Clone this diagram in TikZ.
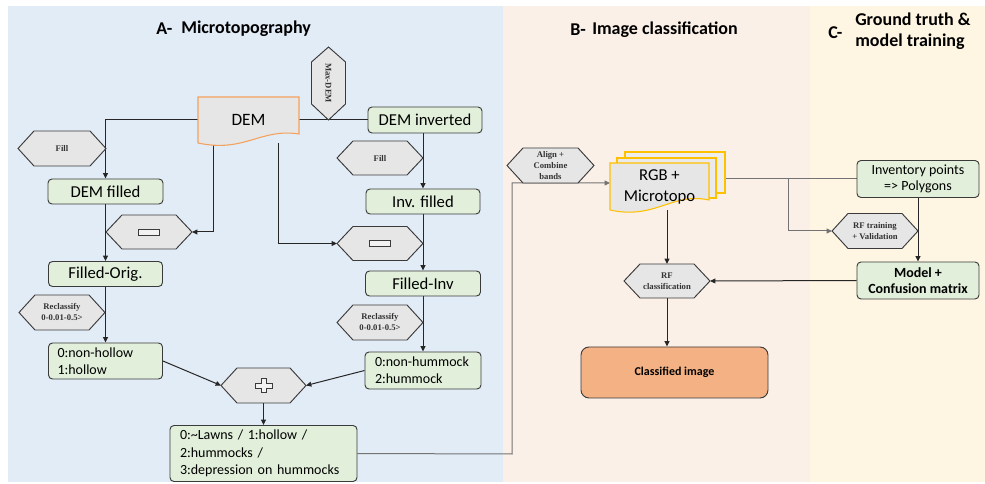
\documentclass[tikz,border=0pt]{standalone}
\usepackage{fontspec}
\setmainfont{Carlito}
\newfontfamily\tnr{Liberation Serif}
\usetikzlibrary{arrows.meta,calc}
\definecolor{bgA}{HTML}{E2ECF7}
\definecolor{bgB}{HTML}{FBF0E7}
\definecolor{bgC}{HTML}{FEF5E2}
\definecolor{gfill}{HTML}{E2EFDA}
\definecolor{hfill}{HTML}{E7E6E6}
\definecolor{dline}{HTML}{3A3A3A}
\definecolor{docfill}{HTML}{E6E6E6}
\definecolor{orB}{HTML}{F4A15D}
\definecolor{yeB}{HTML}{FFC000}
\definecolor{clsfill}{HTML}{F4B183}
\pgfdeclarelayer{bg}\pgfdeclarelayer{conn}\pgfsetlayers{bg,conn,main}
\tikzset{
 gbox/.style={draw=dline, fill=gfill, rounded corners=3pt, line width=0.7pt, inner sep=0pt, font=\fontsize{12.5}{14}\selectfont},
 gboxs/.style={gbox, font=\fontsize{10.5}{13}\selectfont, align=left},
 hexd/.style={draw=dline, fill=hfill, line width=0.7pt},
 hext/.style={inner sep=0pt, font=\tnr\bfseries\fontsize{6.5}{8.25}\selectfont, text=black!80, align=center},
 conn/.style={draw=black!85, line width=0.75pt},
 arr/.style={conn, -{Triangle[length=4pt,width=3.6pt]}},
 gconn/.style={draw=black!55, line width=0.75pt},
 garr/.style={gconn, -{Triangle[length=4pt,width=3.6pt]}},
 ttl/.style={font=\bfseries\fontsize{13.5}{16}\selectfont, anchor=west, inner sep=0pt},
 symb/.style={draw=dline, fill=hfill!50!white, line width=0.6pt},
 docd/.style={fill=docfill, line width=0.8pt},
 plain/.style={inner sep=0pt}
}
\newcommand\hexbox[7]{%
 \draw[hexd] ({#2-#4},#3) -- ({#2-#4+#6},{#3-#5}) -- ({#2+#4-#6},{#3-#5}) -- ({#2+#4},#3) -- ({#2+#4-#6},{#3+#5}) -- ({#2-#4+#6},{#3+#5}) -- cycle;
 \node[hext] (#1) at (#2,#3) {#7};
 \coordinate (#1-w) at ({#2-#4},#3);
 \coordinate (#1-e) at ({#2+#4},#3);
 \coordinate (#1-n) at (#2,{#3-#5});
 \coordinate (#1-s) at (#2,{#3+#5});}
\begin{document}
\begin{tikzpicture}[x=0.75pt,y=-0.75pt]
\useasboundingbox (0,0) rectangle (985,484);
\begin{pgfonlayer}{bg}
\fill[white] (0,0) rectangle (985,484);
\fill[bgA] (8,6) rectangle (503,482);
\fill[bgB] (503,6) rectangle (810,482);
\fill[bgC] (810,6) rectangle (985,482);
\end{pgfonlayer}
% titles
\node[ttl] (tA1) at (156,29) {A-};
\node[ttl] (tA2) at (181,29) {Microtopography};
\node[ttl] (tB1) at (570,30) {B-};
\node[ttl] (tB2) at (592,30) {Image classification};
\node[ttl] (tC1) at (828,33) {C-};
\node[ttl] (tC2) at (855,19) {Ground truth \&};
\node[ttl] (tC3) at (855,42) {model training};
% DEM document
\draw[docd, draw=orB] (198,97) -- (299,97) -- (299,134) .. controls (260,128) and (245,153) .. (198,143) -- cycle;
\node[plain, font=\fontsize{13}{15}\selectfont, minimum width=75.75pt, minimum height=34.5pt] (dem) at (248.5,120) {DEM};
% Max-DEM
\draw[hexd] (328.5,47) -- (345.5,62) -- (345.5,104) -- (328.5,120) -- (311.5,104) -- (311.5,62) -- cycle;
\node[hext, rotate=-90] (maxdem) at (328.5,83) {Max-DEM};
% green boxes A
\node[gbox, minimum width=85.5pt, minimum height=19.5pt] (deminv) at (425,120) {DEM inverted};
\node[gbox, minimum width=86.25pt, minimum height=18.75pt] (demfilled) at (105.5,191.5) {DEM filled};
\node[gbox, minimum width=85.5pt, minimum height=18.75pt] (filledorig) at (105.5,274) {Filled-Orig.};
\node[gboxs, inner xsep=6.75pt, text width=72pt, minimum height=27pt] (nonhollow) at (105.5,361) {0:non-hollow\\1:hollow};
\node[gbox, minimum width=85.5pt, minimum height=18.75pt] (invfilled) at (423,201.5) {Inv. filled};
\node[gbox, minimum width=86.25pt, minimum height=18.75pt] (filledinv) at (423,283.5) {Filled-Inv};
\node[gboxs, inner xsep=7.5pt, text width=72pt, minimum height=27.75pt] (nonhummock) at (423,370.5) {0:non-hummock\\2:hummock};
\node[gboxs, inner xsep=7.5pt, text width=125.25pt, minimum height=42pt] (result) at (263.5,453.5) {0:\textasciitilde Lawns / 1:hollow /\\2:hummocks /\\3:depression on hummocks};
% hexagons A
\hexbox{fillL}{62}{148.5}{44}{17.5}{16}{Fill}
\hexbox{minusL}{149}{232}{43}{17}{16}{}
\hexbox{fillR}{380}{158}{43}{17}{16}{Fill}
\hexbox{minusR}{380}{243.5}{43}{17}{16}{}
\hexbox{reclL}{62}{312.5}{43}{17.5}{16}{Reclassify\\0-0.01-0.5>}
\hexbox{reclR}{380}{322.5}{43}{17.5}{16}{Reclassify\\0-0.01-0.5>}
\hexbox{plus}{263.5}{385.5}{42.5}{17.5}{16}{}
\draw[symb] (138.5,229) rectangle (159.5,235);
\draw[symb] (369.5,240.5) rectangle (390.5,246.5);
\draw[symb] (255,383) -- (261,383) -- (261,378.5) -- (266,378.5) -- (266,383) -- (272,383) -- (272,388) -- (266,388) -- (266,392.5) -- (261,392.5) -- (261,388) -- (255,388) -- cycle;
% B
\draw[docd, draw=yeB, fill=docfill!70!white] (625,152) rectangle (725,193);
\draw[docd, draw=yeB, fill=docfill!85!white] (617,158) rectangle (716,198);
\draw[docd, draw=yeB] (610,163) -- (709,163) -- (709,200) .. controls (672,192) and (655,220) .. (610,210) -- cycle;
\node[plain, font=\fontsize{12.5}{15.5}\selectfont, align=center, minimum width=74.25pt, minimum height=34pt] (rgb) at (659.5,187) {RGB +\\Microtopo};
\coordinate (rgb-w) at (610,183);
\coordinate (rgb-e) at (725,179);
\hexbox{alignb}{550.5}{165.5}{43.5}{17.5}{16}{Align +\\Combine\\bands}
\hexbox{rfclass}{667}{281}{43}{17}{16}{RF\\classification}
\node[gbox, fill=clsfill, rounded corners=6pt, minimum width=140.25pt, minimum height=38.25pt, font=\bfseries\fontsize{9}{11}\selectfont] (classified) at (674.5,372.5) {Classified image};
% C
\node[gbox, font=\fontsize{10.5}{12}\selectfont, align=center, minimum width=91.5pt, minimum height=27.75pt] (inventory) at (918,179) {Inventory points\\=> Polygons};
\hexbox{rftrain}{875}{231}{43}{17.5}{16}{RF training\\+ Validation}
\node[gbox, font=\bfseries\fontsize{10.5}{12}\selectfont, align=center, minimum width=91.5pt, minimum height=27.75pt] (model) at (918,280.5) {Model +\\Confusion matrix};
% connectors
\coordinate (jB) at (512,454);
\coordinate (jC) at (788,179);
\begin{pgfonlayer}{conn}
\draw[arr] (dem.west) -| (demfilled.north);
\draw[arr] ($(dem.south west)+(15.5,0)$) |- (minusL-e);
\draw[arr] ($(dem.south east)+(-21,0)$) |- (minusR-w);
\draw[conn] (dem.east) -- (deminv.west);
\draw[arr] (demfilled.south) -- (filledorig.north);
\draw[arr] (filledorig.south) -- (nonhollow.north);
\draw[arr] (nonhollow.east) -- (plus-w);
\draw[arr] (invfilled.north |- deminv.south) -- (invfilled.north);
\draw[arr] (invfilled.south) -- (filledinv.north);
\draw[arr] (filledinv.south) -- (nonhummock.north);
\draw[arr] (nonhummock.west) -- (plus-e);
\draw[arr] (plus-s) -- (result.north);
\draw[garr] (result.east) -- (jB) |- (rgb-w);
\draw[gconn] (rgb-e) -- (inventory.west);
\draw[garr] (jC) |- (rftrain-w);
\draw[arr] (inventory.south) -- (model.north);
\draw[arr] (model.west) -- (rfclass-e);
\draw[arr] (rfclass-n |- rgb.south) -- (rfclass-n);
\draw[arr] (rfclass-s) -- (rfclass-s |- classified.north);
\end{pgfonlayer}
\end{tikzpicture}
\end{document}
